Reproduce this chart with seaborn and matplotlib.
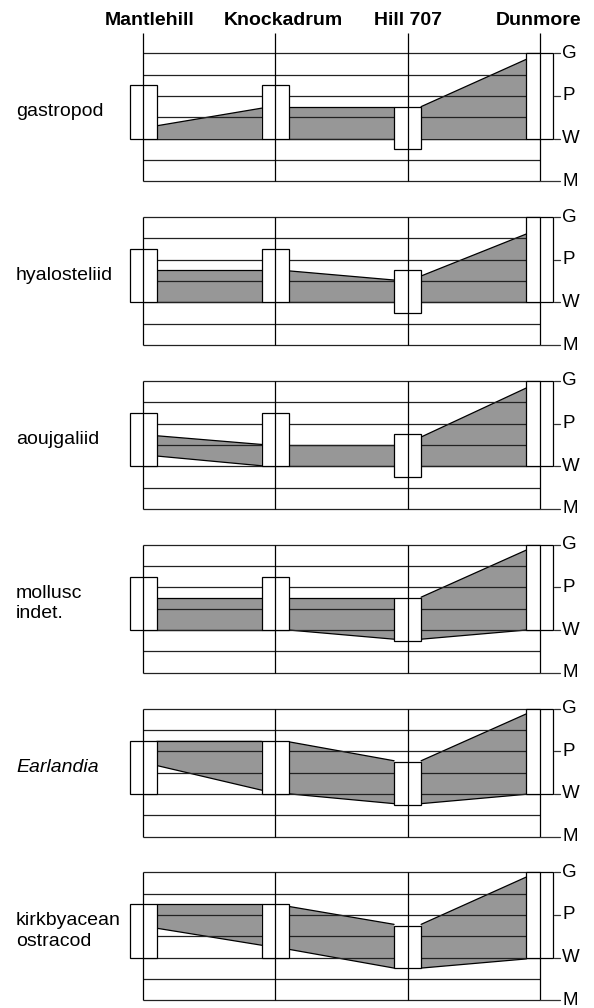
import matplotlib
matplotlib.use("Agg")
import matplotlib.pyplot as plt
import seaborn as sns
import pandas as pd
import numpy as np

# ---------------- data ----------------
locations = ["Mantlehill", "Knockadrum", "Hill 707", "Dunmore"]
taxa = ["gastropod", "hyalosteliid", "aoujgaliid", "mollusc\nindet.", "Earlandia",
        "kirkbyacean\nostracod"]
level_names = ["M", "W", "P", "G"]
level_values = [0, 2, 4, 6]

# range boxes at each location (same in every panel)
box_low = [2.0, 2.0, 1.5, 2.0]
box_high = [4.5, 4.5, 3.5, 6.0]

# shaded band between locations: (left, right) for each of 3 segments
gastropod_top = [(2.6, 3.43), (3.5, 3.5), (3.5, 5.72)]
gastropod_bot = [(2.0, 2.0), (2.0, 2.0), (2.0, 2.0)]
hyalosteliid_top = [(3.5, 3.5), (3.48, 3.05), (3.24, 5.21)]
hyalosteliid_bot = [(2.0, 2.0), (2.0, 2.0), (2.0, 2.0)]
aoujgaliid_top = [(3.43, 3.02), (3.0, 3.0), (3.37, 5.67)]
aoujgaliid_bot = [(2.48, 2.02), (2.0, 2.0), (2.0, 2.0)]
mollusc_top = [(3.5, 3.5), (3.5, 3.5), (3.54, 5.75)]
mollusc_bot = [(2.0, 2.0), (2.0, 1.57), (1.57, 2.0)]
earlandia_top = [(4.5, 4.5), (4.44, 3.55), (3.55, 5.75)]
earlandia_bot = [(3.33, 2.17), (2.0, 1.54), (1.54, 1.98)]
kirkby_top = [(4.5, 4.5), (4.4, 3.56), (3.56, 5.78)]
kirkby_bot = [(3.38, 2.58), (2.39, 1.51), (1.51, 1.94)]

tops = [gastropod_top, hyalosteliid_top, aoujgaliid_top, mollusc_top, earlandia_top, kirkby_top]
bots = [gastropod_bot, hyalosteliid_bot, aoujgaliid_bot, mollusc_bot, earlandia_bot, kirkby_bot]

# ---------------- style ----------------
sns.set_theme(style="white")
plt.rcParams["font.family"] = ["Liberation Sans", "DejaVu Sans"]
plt.rcParams["text.color"] = "black"

W_PX, H_PX = 594, 1008
fig = plt.figure(figsize=(W_PX / 100, H_PX / 100), dpi=100)

X0_PX = 143.0      # pixel of first location
DX_PX = 132.3      # pixel spacing between locations
PANEL_TOP0 = 53.3  # pixel of G line in first panel
PANEL_STEP = 163.8
PANEL_H = 128.0
HW = 13.5 / DX_PX  # half width of boxes (data units)
LW = 0.9
FILL = "#979797"
unit_px = PANEL_H / 6.0

def px2x(px):
    return (px - X0_PX) / DX_PX

xlim = (px2x(0), px2x(W_PX))
xpos = np.arange(len(locations))

for i, taxon in enumerate(taxa):
    top_px = PANEL_TOP0 + PANEL_STEP * i
    ax = fig.add_axes([0, 1 - (top_px + PANEL_H) / H_PX, 1, PANEL_H / H_PX])

    # shaded bands
    rows = []
    for j, ((tl, tr), (bl, br)) in enumerate(zip(tops[i], bots[i])):
        xs = [xpos[j] + HW, xpos[j + 1] - HW]
        ax.fill_between(xs, [bl, br], [tl, tr], facecolor=FILL, edgecolor="none",
                        zorder=1)
        rows += [dict(x=xs[0], y=tl, seg=f"t{j}"), dict(x=xs[1], y=tr, seg=f"t{j}"),
                 dict(x=xs[0], y=bl, seg=f"b{j}"), dict(x=xs[1], y=br, seg=f"b{j}")]
    df = pd.DataFrame(rows)
    sns.lineplot(data=df, x="x", y="y", units="seg", estimator=None, color="black",
                 linewidth=LW, ax=ax, legend=False, zorder=1.5, sort=False)
    ax.set_xlim(*xlim)
    ax.set_ylim(0, 6)
    ax.axis("off")

    # horizontal grid
    ax.hlines(np.arange(0, 7), 0, 3, colors="#222222", linewidth=LW, zorder=2,
              clip_on=False)

    # boxes
    ax.bar(xpos, np.array(box_high) - np.array(box_low), bottom=box_low,
           width=2 * HW, color="white", edgecolor="black", linewidth=LW, zorder=3,
           clip_on=False)

    # vertical location lines
    vtop = 6 + (PANEL_TOP0 - 33) / unit_px if i == 0 else 6
    ax.vlines(xpos, 0, vtop, colors="black", linewidth=LW, zorder=4, clip_on=False)

    # right ticks and labels
    for name, val in zip(level_names, level_values):
        x_start = 3 if val == 0 else px2x(554)
        ax.plot([x_start, px2x(560)], [val, val], color="#333333", linewidth=LW,
                clip_on=False, zorder=4)
        ax.text(px2x(562), val, name, ha="left", va="center", fontsize=13.5,
                clip_on=False)

    # left taxon label
    style = "italic" if taxon == "Earlandia" else "normal"
    ax.text(px2x(16), 3.25, taxon, ha="left", va="center", fontsize=14,
            fontstyle=style, linespacing=1.25, clip_on=False)

    if i == 0:
        title_px = [150, 283, 407.5, 539]
        for loc, tp in zip(locations, title_px):
            ax.text(px2x(tp), 6 + (PANEL_TOP0 - 20) / unit_px, loc, ha="center",
                    va="center", fontsize=14, fontweight="bold", clip_on=False)

fig.savefig("out.png", dpi=100)
